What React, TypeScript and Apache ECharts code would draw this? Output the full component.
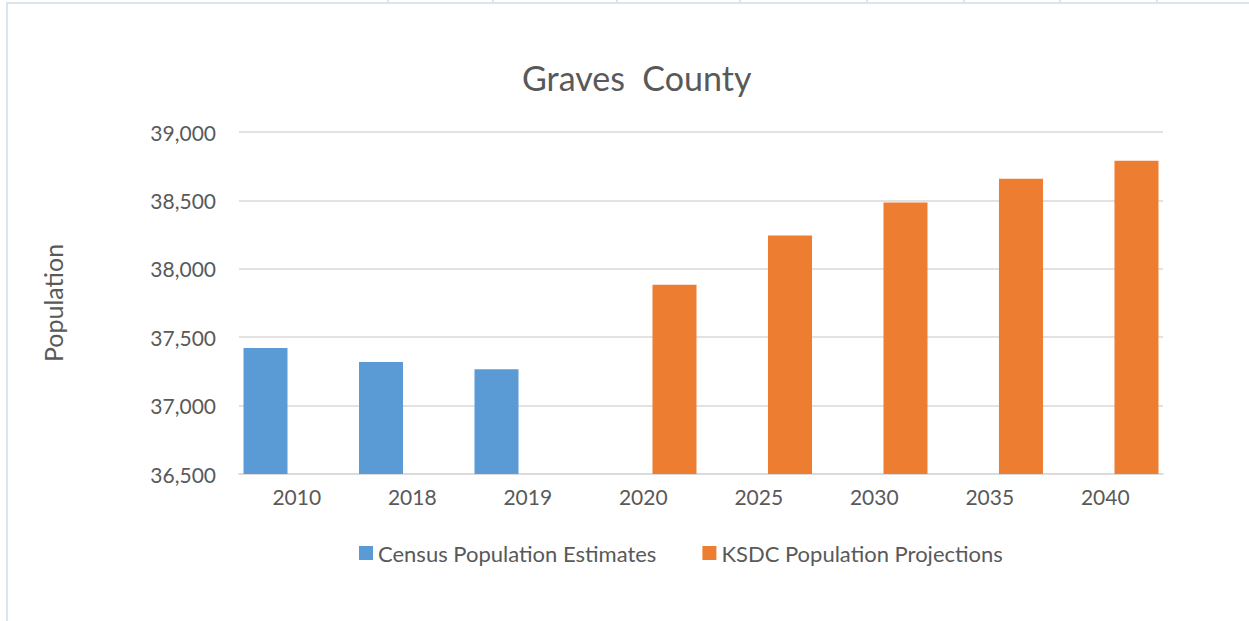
import React, { useEffect, useRef } from "react";
import * as echarts from "echarts";

const categories = ["2010", "2018", "2019", "2020", "2025", "2030", "2035", "2040"];
const censusValues = [37421, 37319, 37265, null, null, null, null, null];
const ksdcValues = [null, null, null, 37884, 38244, 38485, 38659, 38790];
const yTicks = { min: 36500, max: 39000, interval: 500 };
const topTickXs = [388, 493, 617, 740, 867, 964, 1060, 1157];

const FONT = "Lato, 'Noto Sans', sans-serif";
const TEXT = "#595959";

export default function App() {
  const ref = useRef<HTMLDivElement>(null);
  useEffect(() => {
    if (!ref.current) return;
    const chart = echarts.init(ref.current, undefined, { renderer: "svg" });
    chart.setOption({
      animation: false,
      backgroundColor: "#ffffff",
      textStyle: { fontFamily: FONT, color: TEXT },
      title: {
        text: "Graves  County",
        left: 517,
        top: 55,
        textStyle: { fontFamily: FONT, fontSize: 34, fontWeight: "normal", color: TEXT },
      },
      legend: {
        bottom: 52,
        left: 354,
        itemWidth: 14,
        itemHeight: 14,
        itemGap: 46,
        itemStyle: { borderWidth: 0 },
        icon: "rect",
        textStyle: { fontFamily: FONT, fontSize: 22, color: TEXT },
        data: ["Census Population Estimates", "KSDC Population Projections"],
      },
      grid: { left: 239, right: 86, top: 132, bottom: 147, containLabel: false },
      xAxis: {
        type: "category",
        data: categories,
        axisLine: { lineStyle: { color: "#d9d9d9", width: 1.5 } },
        axisTick: { show: false },
        axisLabel: { fontFamily: FONT, fontSize: 21, color: TEXT, margin: 12 },
      },
      yAxis: {
        type: "value",
        min: yTicks.min,
        max: yTicks.max,
        interval: yTicks.interval,
        name: "Population",
        nameLocation: "middle",
        nameGap: 174,
        nameTextStyle: { fontFamily: FONT, fontSize: 25, color: TEXT },
        axisLine: { show: false },
        axisTick: { show: false },
        axisLabel: {
          fontFamily: FONT,
          fontSize: 21,
          color: TEXT,
          margin: 23,
          formatter: (v: number) => v.toLocaleString("en-US"),
        },
        splitLine: { lineStyle: { color: "#d9d9d9", width: 1.5 } },
      },
      series: [
        {
          name: "Census Population Estimates",
          type: "bar",
          data: censusValues,
          barWidth: 44,
          barGap: "42%",
          itemStyle: { color: "#5b9bd5" },
        },
        {
          name: "KSDC Population Projections",
          type: "bar",
          data: ksdcValues,
          barWidth: 44,
          barGap: "42%",
          itemStyle: { color: "#ed7d31" },
        },
      ],
      graphic: [
        { type: "rect", shape: { x: 6, y: 2, width: 1243, height: 2 }, style: { fill: "#dbe5f1" }, silent: true },
        { type: "rect", shape: { x: 6, y: 2, width: 2, height: 619 }, style: { fill: "#dbe5f1" }, silent: true },
        ...topTickXs.map((x) => ({
          type: "line",
          shape: { x1: x, y1: 0, x2: x, y2: 2 },
          style: { stroke: "#c8c8c8", lineWidth: 1 },
          silent: true,
        })),
      ],
    });
    return () => chart.dispose();
  }, []);
  return (
    <div
      ref={ref}
      style={{ position: "fixed", left: 0, top: 0, width: 1249, height: 621 }}
    />
  );
}
